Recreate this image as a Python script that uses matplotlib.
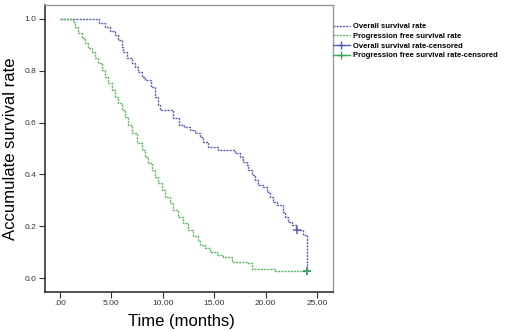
import matplotlib
matplotlib.use("Agg")
import matplotlib.pyplot as plt
from matplotlib.lines import Line2D

plt.rcParams['font.family'] = ['Liberation Sans', 'DejaVu Sans']

# Overall survival (step post): event times and survival after each step
os_time = [0, 3.8, 4.4, 4.9, 5.35, 5.65, 6.0, 6.15, 6.5, 7.0, 7.3, 7.6, 8.0, 8.3,
           8.9, 9.2, 9.5, 9.7, 11.0, 11.6, 12.1, 12.6, 13.1, 13.6, 13.9, 14.4,
           15.4, 17.0, 17.5, 17.8, 18.2, 18.3, 18.7, 19.0, 19.3, 19.75, 20.1,
           20.4, 20.7, 21.1, 21.7, 21.9, 22.2, 22.6, 23.0, 23.6, 24.0]
os_surv = [1.0, 0.985, 0.969, 0.954, 0.938, 0.919, 0.892, 0.873, 0.849, 0.830,
           0.815, 0.795, 0.776, 0.764, 0.737, 0.699, 0.668, 0.649, 0.618, 0.591,
           0.583, 0.571, 0.560, 0.544, 0.525, 0.506, 0.494, 0.483, 0.467, 0.448,
           0.436, 0.417, 0.398, 0.378, 0.359, 0.351, 0.332, 0.313, 0.293, 0.282,
           0.255, 0.236, 0.216, 0.205, 0.185, 0.166, 0.027]
os_cens_t = [23.1, 24.0]
os_cens_s = [0.185, 0.027]

# Progression free survival
pfs_time = [0, 1.3, 1.5, 1.75, 2.15, 2.45, 2.7, 3.1, 3.4, 3.7, 4.1, 4.4, 4.7,
            5.05, 5.35, 5.65, 6.05, 6.3, 6.6, 7.0, 7.5, 8.0, 8.3, 8.55, 8.95,
            9.25, 9.55, 9.9, 10.2, 10.7, 11.0, 11.5, 11.95, 12.45, 12.95, 13.4,
            13.6, 14.1, 14.6, 15.3, 15.9, 16.7, 18.2, 18.7, 20.9, 24.0]
pfs_surv = [1.0, 0.988, 0.969, 0.946, 0.927, 0.907, 0.888, 0.873, 0.849, 0.830,
            0.803, 0.776, 0.753, 0.726, 0.699, 0.676, 0.649, 0.622, 0.591, 0.560,
            0.521, 0.494, 0.467, 0.444, 0.417, 0.390, 0.367, 0.340, 0.313, 0.290,
            0.263, 0.236, 0.212, 0.185, 0.162, 0.143, 0.127, 0.116, 0.100, 0.089,
            0.081, 0.062, 0.058, 0.035, 0.027, 0.027]
pfs_cens_t = [24.0]
pfs_cens_s = [0.027]

xticks = [0, 5, 10, 15, 20, 25]
xticklabels = ['.00', '5.00', '10.00', '15.00', '20.00', '25.00']
yticks = [0.0, 0.2, 0.4, 0.6, 0.8, 1.0]
yticklabels = ['0.0', '0.2', '0.4', '0.6', '0.8', '1.0']

blue = '#5561b8'
green = '#55bd5a'
dots = (0, (1.5, 0.8))

fig = plt.figure(figsize=(5.13, 3.32), dpi=100)
ax = fig.add_axes([45 / 513, 40 / 332, 288 / 513, 287 / 332])

ax.step(os_time, os_surv, where='post', color=blue, lw=1, linestyle=dots)
ax.step(pfs_time, pfs_surv, where='post', color=green, lw=1, linestyle=dots)
ax.plot(os_cens_t, os_cens_s, '+', color=blue, ms=6, mew=1.1)
ax.plot(pfs_cens_t, pfs_cens_s, '+', color='#3aa855', ms=6, mew=1.1)

ax.set_xlim(-1.46, 26.56)
ax.set_ylim(-0.054, 1.054)
ax.set_xticks(xticks)
ax.set_xticklabels(xticklabels)
ax.set_yticks(yticks)
ax.set_yticklabels(yticklabels)
ax.tick_params(labelsize=6, colors='#333333', length=4, width=0.8, pad=2)

for s in ['left', 'bottom']:
    ax.spines[s].set_color('#333333')
    ax.spines[s].set_linewidth(1.2)
for s in ['top', 'right']:
    ax.spines[s].set_color('#999999')
    ax.spines[s].set_linewidth(1)

ax.set_xlabel('Time (months)', fontsize=12)
ax.xaxis.set_label_coords((181 - 45) / 288, -0.075)
ax.set_ylabel('Accumulate survival rate', fontsize=12)
ax.yaxis.set_label_coords(-0.093, 0.5)

handles = [
    Line2D([], [], color=blue, lw=1, linestyle=dots),
    Line2D([], [], color=green, lw=1, linestyle=dots),
    Line2D([], [], color=blue, lw=1, marker='+', ms=6),
    Line2D([], [], color='#3aa855', lw=1, marker='+', ms=6),
]
labels = ['Overall survival rate', 'Progression free survival rate',
          'Overall survival rate-censored', 'Progression free survival rate-censored']
fig.legend(handles, labels, loc='upper left', bbox_to_anchor=(330 / 513, 1 - 20 / 332),
           frameon=False, prop={'size': 5.5, 'weight': 'bold'},
           handlelength=2.2, handletextpad=0.4, labelspacing=0.3, borderaxespad=0)

fig.savefig('out.png', dpi=100, facecolor='white')
